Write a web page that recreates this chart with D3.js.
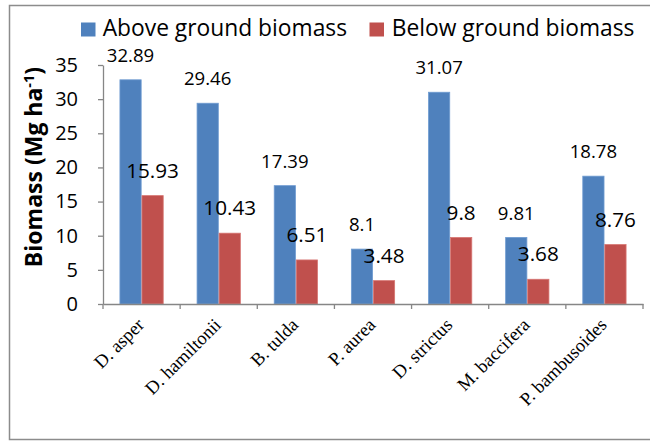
<!DOCTYPE html>
<html>
<head>
<meta charset="utf-8">
<script src="https://cdn.jsdelivr.net/npm/d3@7/dist/d3.min.js"></script>
<style>
  html, body { margin: 0; padding: 0; background: #fff; }
  svg { display: block; }
</style>
</head>
<body>
<svg id="chart" width="650" height="447"></svg>
<script>
const categories = ["D. asper", "D. hamiltonii", "B. tulda", "P. aurea", "D. strictus", "M. baccifera", "P. bambusoides"];
const seriesNames = ["Above ground biomass", "Below ground biomass"];
const aboveGround = [32.89, 29.46, 17.39, 8.1, 31.07, 9.81, 18.78];
const belowGround = [15.93, 10.43, 6.51, 3.48, 9.8, 3.68, 8.76];
const yTicks = [0, 5, 10, 15, 20, 25, 30, 35];
const colors = ["#4F81BD", "#C0504D"];
const edgeColors = ["#6f9bd1", "#d67572"];

(function () {
const svg = d3.select("#chart");
const FONT = "'Open Sans', 'Noto Sans', sans-serif";
const axisColor = "#868686";

// outer frame
svg.append("rect")
  .attr("x", 9.5).attr("y", 5.5).attr("width", 700).attr("height", 434)
  .attr("fill", "none").attr("stroke", "#8c8c8c").attr("stroke-width", 1.5);

const pLeft = 103, pRight = 643, pTop = 65, pBottom = 304;

const x0 = d3.scaleBand().domain(categories).range([pLeft, pRight]).paddingInner(0).paddingOuter(0);
const x1 = d3.scaleBand().domain(seriesNames).range([0, x0.bandwidth()]).paddingInner(0).paddingOuter(0.75);
const y = d3.scaleLinear().domain([0, 35]).range([pBottom, pTop]);

const rows = categories.map((c, i) => ({ cat: c, vals: [aboveGround[i], belowGround[i]] }));

// bars
const groups = svg.append("g").selectAll("g").data(rows).join("g")
  .attr("transform", d => `translate(${x0(d.cat)},0)`);

groups.selectAll("rect").data(d => d.vals.map((v, j) => ({ v, j }))).join("rect")
  .attr("x", d => x1(seriesNames[d.j]) + 0.4)
  .attr("y", d => y(d.v) + 0.4)
  .attr("width", x1.bandwidth() - 0.8)
  .attr("height", d => y(0) - y(d.v) - 0.4)
  .attr("fill", d => colors[d.j])
  .attr("stroke", d => edgeColors[d.j])
  .attr("stroke-width", 0.8);

// value labels
groups.selectAll("text").data(d => d.vals.map((v, j) => ({ v, j }))).join("text")
  .attr("x", d => x1(seriesNames[d.j]) + x1.bandwidth() / 2)
  .attr("y", d => y(d.v) - 17.5)
  .attr("text-anchor", "middle")
  .attr("font-family", FONT)
  .attr("font-size", d => d.j === 0 ? 18.6 : 20.7)
  .attr("fill", "#000")
  .text(d => d.v);

// y axis
const yAxis = svg.append("g")
  .attr("transform", `translate(${pLeft},0)`)
  .call(d3.axisLeft(y).tickValues(yTicks).tickSize(5).tickPadding(20).tickSizeOuter(0));
yAxis.select(".domain").attr("stroke", axisColor).attr("stroke-width", 1.3);
yAxis.selectAll(".tick line").attr("stroke", axisColor).attr("stroke-width", 1.3);
yAxis.selectAll(".tick text")
  .attr("font-family", FONT).attr("font-size", 20).attr("fill", "#000");

// x axis line
const xAxis = svg.append("g")
  .attr("transform", `translate(0,${pBottom})`)
  .call(d3.axisBottom(x0).tickSize(0).tickSizeOuter(0).tickFormat(""));
xAxis.select(".domain").attr("stroke", axisColor).attr("stroke-width", 1.3);

// boundary ticks
const boundaries = categories.map(c => x0(c)).concat([x0(categories[categories.length - 1]) + x0.bandwidth()]);
svg.append("g").selectAll("line").data(boundaries).join("line")
  .attr("x1", d => d).attr("x2", d => d)
  .attr("y1", pBottom).attr("y2", pBottom + 5)
  .attr("stroke", axisColor).attr("stroke-width", 1.3);

// category labels
svg.append("g").selectAll("text").data(categories).join("text")
  .attr("transform", d => `translate(${x0(d) + x0.bandwidth() / 2 + 3.5},${pBottom + 22}) rotate(-45)`)
  .attr("text-anchor", "end")
  .attr("font-family", "'Liberation Serif', 'Times New Roman', serif")
  .attr("font-size", 18.5)
  .attr("fill", "#000")
  .text(d => d);

// y title
const yt = svg.append("text")
  .attr("transform", "translate(42,167) rotate(-90)")
  .attr("text-anchor", "middle")
  .attr("font-family", FONT)
  .attr("font-weight", "bold")
  .attr("font-size", 23)
  .attr("fill", "#000");
yt.append("tspan").text("Biomass (Mg ha");
yt.append("tspan").attr("font-size", 14.5).attr("dy", -8.5).text("-1");
yt.append("tspan").attr("dy", 8.5).text(")");

// legend
const legendItems = [
  { name: seriesNames[0], color: colors[0], sx: 81, tx: 102.7 },
  { name: seriesNames[1], color: colors[1], sx: 369.5, tx: 391.7 }
];
const lg = svg.append("g");
lg.selectAll("rect").data(legendItems).join("rect")
  .attr("x", d => d.sx).attr("y", 22.5).attr("width", 14.5).attr("height", 14)
  .attr("fill", d => d.color);
lg.selectAll("text").data(legendItems).join("text")
  .attr("x", d => d.tx).attr("y", 36)
  .attr("font-family", FONT).attr("font-size", 22.8).attr("fill", "#000")
  .text(d => d.name);
})();
</script>
</body>
</html>
